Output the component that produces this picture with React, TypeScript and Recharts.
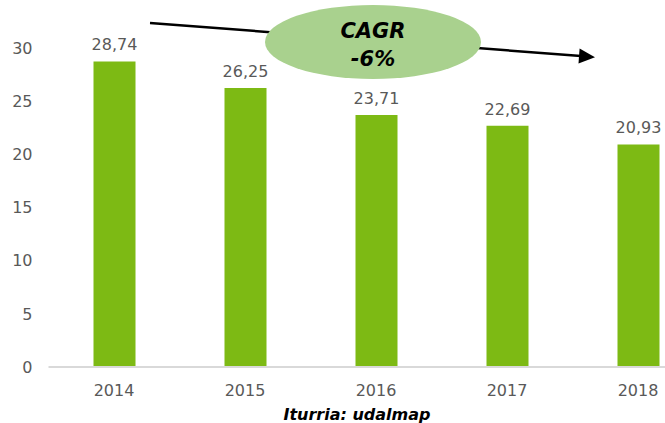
import React from "react";
import { BarChart, Bar, XAxis, YAxis, LabelList } from "recharts";

const years = ["2014", "2015", "2016", "2017", "2018"];
const values = [28.74, 26.25, 23.71, 22.69, 20.93];
const yTicks = [0, 5, 10, 15, 20, 25, 30];
const sourceText = "Iturria: udalmap";
const cagrTitle = "CAGR";
const cagrValue = "-6%";

const data = years.map((y, i) => ({ year: y, value: values[i] }));

const FONT = "'DejaVu Sans', Verdana, sans-serif";
const GRAY = "#595959";

export default function App() {
  return (
    <div
      style={{
        position: "absolute",
        left: 0,
        top: 0,
        width: 665,
        height: 423,
        overflow: "hidden",
        background: "#ffffff",
        fontFamily: FONT,
      }}
    >
      <BarChart
        width={710}
        height={423}
        data={data}
        margin={{ top: 48, right: 6.5, left: 0, bottom: 0 }}
      >
        <YAxis
          width={48.5}
          domain={[0, 30]}
          ticks={yTicks}
          axisLine={false}
          tickLine={false}
          tickSize={0}
          tickMargin={16}
          tick={{ fill: GRAY, fontSize: 16, fontFamily: FONT }}
        />
        <XAxis
          dataKey="year"
          height={56}
          axisLine={{ stroke: "#d9d9d9", strokeWidth: 2 }}
          tickLine={false}
          tickSize={0}
          tickMargin={18}
          interval={0}
          tick={{ fill: GRAY, fontSize: 16, fontFamily: FONT }}
        />
        <Bar dataKey="value" fill="#7dba14" barSize={42} isAnimationActive={false}>
          <LabelList
            dataKey="value"
            position="top"
            offset={11}
            formatter={(v: number) => v.toFixed(2).replace(".", ",")}
            style={{ fill: GRAY, fontSize: 16, fontFamily: FONT }}
          />
        </Bar>
      </BarChart>
      <svg
        width={665}
        height={423}
        style={{ position: "absolute", left: 0, top: 0, pointerEvents: "none" }}
      >
        <line x1={150} y1={23} x2={581} y2={56} stroke="#000" strokeWidth={2.5} />
        <polygon points="595,57.2 579.6,48.5 578.5,63.5" fill="#000" />
        <ellipse cx={373} cy={42} rx={108} ry={37} fill="#a9d18e" />
        <text
          x={373}
          y={38}
          textAnchor="middle"
          fontFamily={FONT}
          fontWeight="bold"
          fontStyle="italic"
          fontSize={21}
          fill="#000"
        >
          {cagrTitle}
        </text>
        <text
          x={373}
          y={66}
          textAnchor="middle"
          fontFamily={FONT}
          fontWeight="bold"
          fontStyle="italic"
          fontSize={21}
          fill="#000"
        >
          {cagrValue}
        </text>
        <text
          x={357}
          y={420}
          textAnchor="middle"
          fontFamily={FONT}
          fontWeight="bold"
          fontStyle="italic"
          fontSize={16}
          fill="#000"
        >
          {sourceText}
        </text>
      </svg>
    </div>
  );
}
